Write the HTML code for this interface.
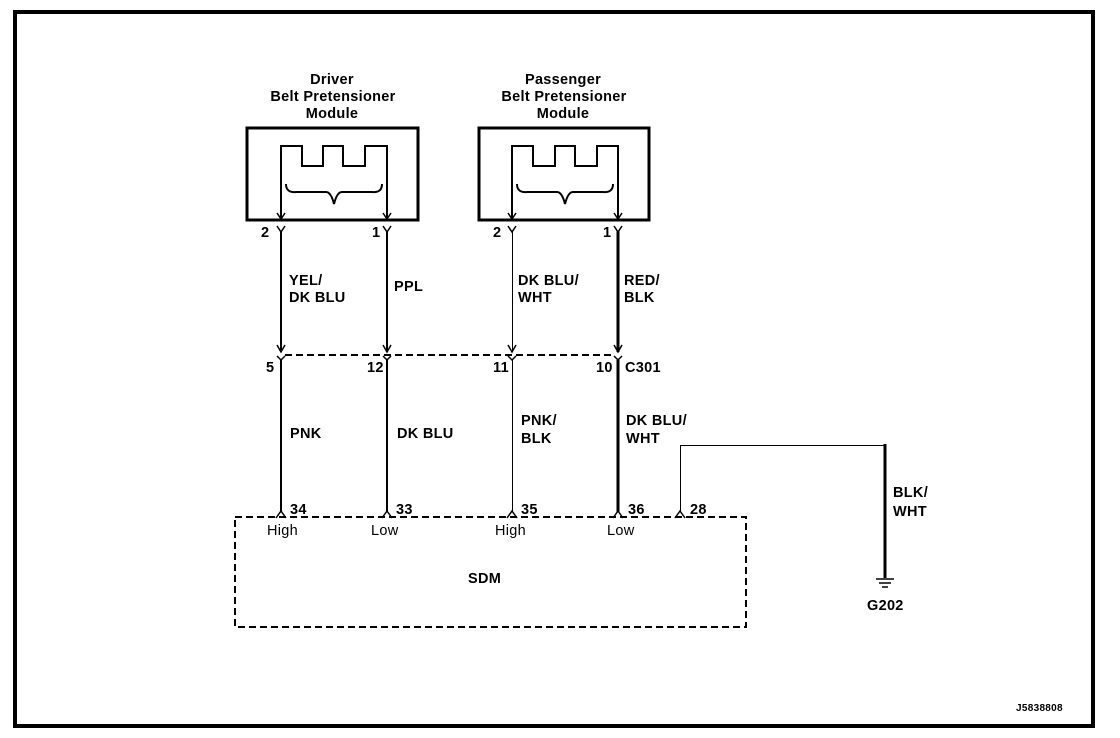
<!DOCTYPE html>
<html><head><meta charset="utf-8"><style>
html,body{margin:0;padding:0;background:#fff;}
svg{display:block;}
text{font-family:"Liberation Sans",Arial,sans-serif;font-size:14.5px;fill:#000;font-weight:bold;letter-spacing:0.3px;}
.n{font-weight:normal;}
</style></head><body>
<svg width="1120" height="738" viewBox="0 0 1120 738">
<rect x="15" y="12" width="1078" height="714" fill="none" stroke="#000" stroke-width="4"/>
<g text-anchor="middle">
<text x="332" y="84">Driver</text><text x="333" y="101">Belt Pretensioner</text><text x="332" y="118">Module</text>
<text x="563" y="84">Passenger</text><text x="564" y="101">Belt Pretensioner</text><text x="563" y="118">Module</text>
</g>
<rect x="247" y="128" width="171" height="92" fill="none" stroke="#000" stroke-width="3"/>
<rect x="479" y="128" width="170" height="92" fill="none" stroke="#000" stroke-width="3"/>
<g fill="none" stroke="#000">
<path d="M281 218 V146 H302 V166 H323 V146 H343 V166 H365 V146 H387 V218" stroke-width="2"/>
<path d="M512 218 V146 H533 V166 H555 V146 H575 V166 H597 V146 H618 V218" stroke-width="2"/>
<path d="M286 184 Q286 193 296 192 H326 Q331 192 334 204 Q337 192 342 192 H372 Q382 193 382 184" stroke-width="2"/>
<path d="M517 184 Q517 193 527 192 H557 Q562 192 565 204 Q568 192 573 192 H603 Q613 193 613 184" stroke-width="2"/>
<path d="M277 213 L281 219 L285 213 M383 213 L387 219 L391 213 M508 213 L512 219 L516 213 M614 213 L618 219 L622 213" stroke-width="1.5"/>
<path d="M277 226 L281 232 L285 226 M383 226 L387 232 L391 226 M508 226 L512 232 L516 226 M614 226 L618 232 L622 226" stroke-width="1.5"/>
<line x1="281" y1="231" x2="281" y2="352" stroke-width="2"/>
<line x1="387" y1="231" x2="387" y2="352" stroke-width="2"/>
<line x1="512.5" y1="231" x2="512.5" y2="352" stroke-width="1"/>
<line x1="618" y1="231" x2="618" y2="352" stroke-width="3"/>
<path d="M277 345 L281 352 L285 345 M383 345 L387 352 L391 345 M508 345 L512 352 L516 345 M614 345 L618 352 L622 345" stroke-width="1.5"/>
<path d="M277 356 L281 360 L285 356 M383 356 L387 360 L391 356 M508 356 L512 360 L516 356 M614 356 L618 360 L622 356" stroke-width="1.5"/>
<line x1="285" y1="355" x2="614" y2="355" stroke-width="2" stroke-dasharray="7,4"/>
<line x1="281" y1="360" x2="281" y2="512" stroke-width="2"/>
<line x1="387" y1="360" x2="387" y2="512" stroke-width="2"/>
<line x1="512.5" y1="360" x2="512.5" y2="512" stroke-width="1"/>
<line x1="618" y1="360" x2="618" y2="512" stroke-width="3"/>
<path d="M680.5 512 V445.5 H885" stroke-width="1"/>
<line x1="885" y1="444" x2="885" y2="578" stroke-width="3"/>
<path d="M276 518 L281 511 L286 518 M382 518 L387 511 L392 518 M507 518 L512 511 L517 518 M613 518 L618 511 L623 518 M675 518 L680 511 L685 518" stroke-width="1.5"/>
<rect x="235" y="517" width="511" height="110" stroke-width="2" stroke-dasharray="7,4"/>
<path d="M876 579 H894 M879 583 H891 M882 587 H888" stroke-width="1.5"/>
</g>
<text x="261" y="237">2</text><text x="372" y="237">1</text>
<text x="493" y="237">2</text><text x="603" y="237">1</text>
<text x="289" y="285">YEL/</text><text x="289" y="302">DK BLU</text>
<text x="394" y="291">PPL</text>
<text x="518" y="285">DK BLU/</text><text x="518" y="302">WHT</text>
<text x="624" y="285">RED/</text><text x="624" y="302">BLK</text>
<text x="266" y="372">5</text><text x="367" y="372">12</text><text x="493" y="372">11</text><text x="596" y="372">10</text>
<text x="625" y="372">C301</text>
<text x="290" y="438">PNK</text>
<text x="397" y="438">DK BLU</text>
<text x="521" y="425">PNK/</text><text x="521" y="443">BLK</text>
<text x="626" y="425">DK BLU/</text><text x="626" y="443">WHT</text>
<text x="893" y="497">BLK/</text><text x="893" y="516">WHT</text>
<text x="290" y="514">34</text><text x="396" y="514">33</text><text x="521" y="514">35</text><text x="628" y="514">36</text><text x="690" y="514">28</text>
<text class="n" x="267" y="535">High</text><text class="n" x="371" y="535">Low</text><text class="n" x="495" y="535">High</text><text class="n" x="607" y="535">Low</text>
<text x="468" y="583">SDM</text>
<text x="867" y="610">G202</text>
<text x="1016" y="711" style="font-size:10px">J5838808</text>
</svg>
</body></html>
